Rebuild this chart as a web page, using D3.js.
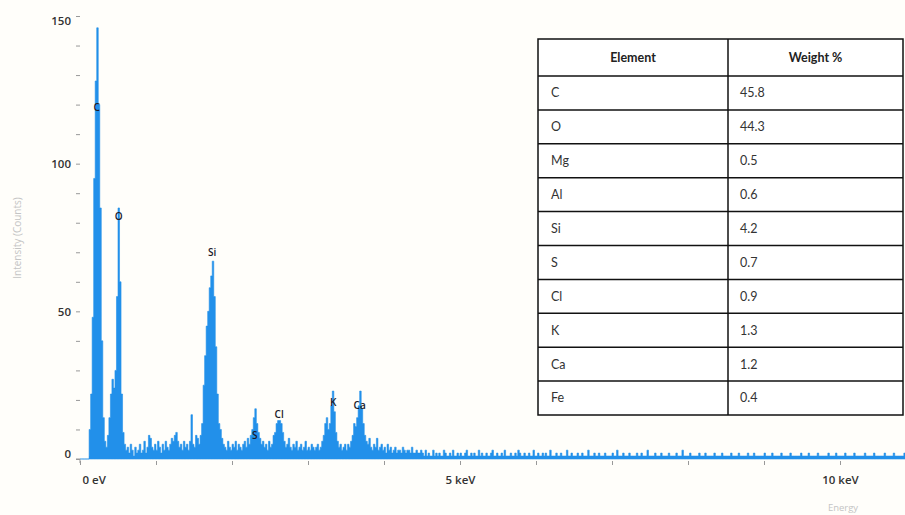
<!DOCTYPE html>
<html>
<head>
<meta charset="utf-8">
<script src="https://cdn.jsdelivr.net/npm/d3@7"></script>
<style>
  html, body { margin: 0; padding: 0; background: #fffefa; }
  svg { display: block; }
</style>
</head>
<body>
<svg id="chart" width="905" height="515"></svg>
<script>
// EDS spectrum + quantification table

const tableElements = ['C', 'O', 'Mg', 'Al', 'Si', 'S', 'Cl', 'K', 'Ca', 'Fe']
const tableWeights = ['45.8', '44.3', '0.5', '0.6', '4.2', '0.7', '0.9', '1.3', '1.2', '0.4']

// peak labels (keV, count height of label)
const peakNames = ['C', 'O', 'Si', 'S', 'Cl', 'K', 'Ca']
const peakEnergy = [0.22, 0.51, 1.74, 2.30, 2.62, 3.33, 3.68]
const peakLabelCounts = [119, 82, 70, 8, 15, 19, 18]

// spectrum, 0 - 4.5 keV in 0.02 keV channels
const lowStart = 0, lowStep = 0.02
const lowCounts = [
  0, 0, 0, 0, 0, 0, 10, 22, 48, 95, 128, 146, 120, 85, 40, 14, 6, 4, 8, 14,
  22, 27, 24, 30, 55, 85, 60, 22, 9, 5, 3, 4, 2, 5, 3, 1, 4, 2, 3, 5,
  2, 3, 6, 2, 4, 8, 7, 4, 3, 5, 3, 6, 4, 2, 5, 3, 6, 4, 3, 5,
  7, 6, 8, 9, 6, 4, 5, 3, 6, 4, 5, 3, 6, 15, 5, 4, 8, 7, 5, 8,
  12, 25, 35, 45, 50, 58, 62, 67, 55, 38, 22, 12, 10, 7, 5, 4, 3, 6, 4, 3,
  5, 4, 6, 3, 5, 4, 3, 5, 6, 4, 7, 5, 8, 10, 14, 17, 12, 9, 7, 5,
  6, 4, 5, 3, 6, 4, 5, 8, 9, 12, 13, 13, 12, 9, 6, 4, 5, 7, 4, 3,
  5, 4, 6, 3, 4, 5, 3, 4, 6, 3, 4, 3, 5, 4, 3, 4, 5, 3, 4, 6,
  8, 12, 14, 10, 12, 18, 23, 16, 9, 6, 4, 5, 3, 4, 5, 3, 5, 4, 6, 8,
  12, 11, 14, 18, 23, 17, 12, 8, 6, 5, 7, 4, 3, 5, 4, 7, 3, 4, 5, 3,
  4, 2, 5, 3, 4, 2, 3, 4, 2, 3, 3, 2, 4, 3, 2, 3, 3, 2, 4, 2,
  2, 3, 2, 2, 3
]

// spectrum tail, 4.5 keV onward in 0.02 keV channels
const tailStart = 4.5, tailStep = 0.02
const tailCounts = [
  2, 1, 3, 1, 2, 1, 1, 3, 1, 2, 1, 2, 1, 1, 3, 2, 1, 1, 2, 1, 3, 1, 1, 2, 1, 2, 1, 1, 2, 3, 1, 1, 2, 1, 2, 1, 1, 3, 1, 2,
  1, 1, 2, 1, 1, 2, 3, 1, 1, 2, 1, 1, 2, 1, 3, 1, 1, 1, 2, 1, 1, 2, 1, 3, 2, 1, 1, 2, 1, 1, 2, 1, 1, 3, 1, 1, 2, 1, 1, 2,
  1, 2, 1, 1, 3, 1, 1, 1, 2, 1, 1, 2, 1, 1, 1, 3, 1, 1, 2, 1, 1, 1, 2, 1, 1, 2, 1, 1, 1, 3, 1, 1, 1, 2, 1, 1, 2, 1, 1, 1,
  2, 1, 1, 1, 1, 2, 1, 1, 3, 1, 1, 1, 2, 1, 1, 1, 2, 1, 1, 1, 1, 2, 1, 1, 2, 1, 1, 1, 3, 1, 1, 1, 1, 2, 1, 1, 1, 2, 1, 1,
  1, 1, 2, 1, 1, 1, 1, 2, 1, 1, 1, 3, 1, 1, 1, 1, 2, 1, 1, 1, 1, 1, 2, 1, 1, 1, 2, 1, 1, 1, 1, 1, 2, 1, 1, 1, 1, 2, 1, 1,
  1, 1, 1, 2, 1, 1, 1, 1, 2, 1, 1, 1, 1, 1, 2, 1, 1, 1, 2, 1, 1, 1, 1, 1, 1, 2, 1, 1, 1, 1, 2, 1, 1, 1, 1, 1, 2, 1, 1, 1,
  1, 1, 2, 1, 1, 1, 1, 1, 1, 2, 1, 1, 1, 1, 2, 1, 1, 1, 1, 1, 2, 1, 1, 1, 1, 1, 1, 2, 1, 1, 1, 1, 2, 1, 1, 1, 1, 1, 2, 1,
  1, 1, 1, 1, 2, 1, 1, 1, 1, 1, 1, 2, 1, 1, 1, 1, 1, 2, 1, 1, 1, 1, 1, 1, 2, 1, 1, 1, 1, 1, 2, 1, 1, 1, 1, 1, 1, 2, 1, 1,
  1, 1, 1, 2, 1, 1, 1, 1, 1, 1, 2, 1, 1, 1, 1
]

const yMajor = [0, 50, 100, 150]
const xLabelled = { 0: '0 eV', 5: '5 keV', 10: '10 keV' }

const BLUE = '#2290ea'

const spectrum = lowCounts.map((c, i) => ({ e: lowStart + i * lowStep, c }))
  .concat(tailCounts.map((c, i) => ({ e: tailStart + i * tailStep, c })))

const svg = d3.select('#chart')

const x = d3.scaleLinear().domain([0, 825 / 76]).range([80, 905])
const y = d3.scaleLinear().domain([0, 150]).range([459, 16])

// spectrum fill
const area = d3.area()
  .curve(d3.curveStepAfter)
  .x(d => x(d.e))
  .y0(y(0))
  .y1(d => y(d.c))

svg.append('path')
  .datum(spectrum)
  .attr('d', area)
  .attr('fill', BLUE)
  .attr('stroke', BLUE)
  .attr('stroke-width', 0.6)

// baseline band
svg.append('line')
  .attr('x1', x(0.12)).attr('x2', 905)
  .attr('y1', y(0) - 1.5).attr('y2', y(0) - 1.5)
  .attr('stroke', BLUE).attr('stroke-width', 3)

// y axis: minor ticks every 10, labels at 50s
const yAxis = d3.axisLeft(y)
  .tickValues(d3.range(0, 151, 10))
  .tickSize(4)
  .tickFormat(d => yMajor.includes(d) ? d : '')
const gy = svg.append('g').attr('transform', 'translate(80,0)').call(yAxis)
gy.select('.domain').remove()
gy.selectAll('.tick line').attr('stroke', '#999').attr('stroke-width', 1)
gy.selectAll('.tick text')
  .attr('x', -9)
  .style('font-family', '"Open Sans", sans-serif')
  .style('font-size', '11.5px').style('font-weight', 600).attr('fill', '#333')
gy.selectAll('.tick text').filter(d => d === 150).attr('dy', '0.75em')
gy.selectAll('.tick text').filter(d => d === 0).attr('dy', '-0.1em')

// x axis
const xAxis = d3.axisBottom(x)
  .tickValues(d3.range(0, 11, 1))
  .tickSize(4)
  .tickFormat(d => xLabelled[d] || '')
const gx = svg.append('g').attr('transform', `translate(0,${y(0) + 2})`).call(xAxis)
gx.select('.domain').remove()
gx.selectAll('.tick line').attr('stroke', '#999')
gx.selectAll('.tick text')
  .attr('y', 15)
  .style('font-family', '"Open Sans", sans-serif')
  .style('font-size', '11.5px').style('font-weight', 600).attr('fill', '#333')
gx.selectAll('.tick text').filter(d => d === 0).attr('text-anchor', 'start').attr('dx', 2)

// corner mark
svg.append('path')
  .attr('d', `M76,${y(0)} H80 V${y(0) + 4}`)
  .attr('fill', 'none').attr('stroke', '#999')

// axis titles
svg.append('text')
  .attr('transform', 'translate(21,238) rotate(-90)')
  .attr('text-anchor', 'middle')
  .style('font-family', '"Open Sans", sans-serif').style('font-size', '10px')
  .attr('fill', '#c4c4c4')
  .text('Intensity (Counts)')

svg.append('text')
  .attr('x', 843).attr('y', 511)
  .attr('text-anchor', 'middle')
  .style('font-family', '"Open Sans", sans-serif').style('font-size', '9.5px')
  .attr('fill', '#c4c4c4')
  .text('Energy')

// peak labels
svg.append('g').selectAll('text')
  .data(peakNames)
  .join('text')
  .attr('x', (d, i) => x(peakEnergy[i]))
  .attr('y', (d, i) => y(peakLabelCounts[i]))
  .attr('dy', '0.35em')
  .attr('text-anchor', 'middle')
  .style('font-family', '"Open Sans", sans-serif').style('font-size', '10px')
  .style('font-weight', 600)
  .attr('fill', '#1a1a2a')
  .text(d => d)

// table
const tX0 = 538, tX1 = 728, tX2 = 903
const tY0 = 39, headH = 37, rowH = 33.9
const nRows = tableElements.length
const tY1 = tY0 + headH + nRows * rowH

const gt = svg.append('g')
gt.append('rect')
  .attr('x', tX0).attr('y', tY0)
  .attr('width', tX2 - tX0).attr('height', tY1 - tY0)
  .attr('fill', '#fff').attr('stroke', '#111').attr('stroke-width', 1.5)

const rowLines = d3.range(nRows).map(i => tY0 + headH + i * rowH)
gt.selectAll('line.row')
  .data(rowLines)
  .join('line')
  .attr('class', 'row')
  .attr('x1', tX0).attr('x2', tX2)
  .attr('y1', d => d).attr('y2', d => d)
  .attr('stroke', '#111').attr('stroke-width', 1.5)

gt.append('line')
  .attr('x1', tX1).attr('x2', tX1)
  .attr('y1', tY0).attr('y2', tY1)
  .attr('stroke', '#111').attr('stroke-width', 1.5)

const tableFont = 'Lato, "Open Sans", sans-serif'
gt.append('text')
  .attr('x', (tX0 + tX1) / 2).attr('y', tY0 + headH / 2).attr('dy', '0.35em')
  .attr('text-anchor', 'middle')
  .style('font-family', tableFont).style('font-size', '12.5px').style('font-weight', 'bold')
  .attr('fill', '#222')
  .text('Element')
gt.append('text')
  .attr('x', (tX1 + tX2) / 2).attr('y', tY0 + headH / 2).attr('dy', '0.35em')
  .attr('text-anchor', 'middle')
  .style('font-family', tableFont).style('font-size', '12.5px').style('font-weight', 'bold')
  .attr('fill', '#222')
  .text('Weight %')

gt.selectAll('text.el')
  .data(tableElements)
  .join('text')
  .attr('class', 'el')
  .attr('x', tX0 + 13)
  .attr('y', (d, i) => tY0 + headH + i * rowH + rowH / 2)
  .attr('dy', '0.35em')
  .style('font-family', tableFont).style('font-size', '12.5px')
  .attr('fill', '#333')
  .text(d => d)

gt.selectAll('text.wt')
  .data(tableWeights)
  .join('text')
  .attr('class', 'wt')
  .attr('x', tX1 + 12)
  .attr('y', (d, i) => tY0 + headH + i * rowH + rowH / 2)
  .attr('dy', '0.35em')
  .style('font-family', tableFont).style('font-size', '12.5px')
  .attr('fill', '#333')
  .text(d => d)
</script>
</body>
</html>
